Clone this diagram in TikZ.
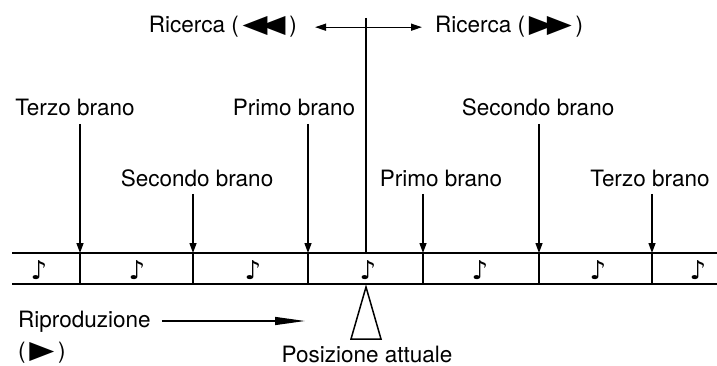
\documentclass[tikz,border=0pt]{standalone}
\usepackage{fontspec}
\setmainfont{TeX Gyre Heros}
\newfontfamily\symfont{DejaVu Sans}
\usetikzlibrary{arrows.meta,positioning}

\newcommand{\tasto}[1]{{\symfont\fontsize{25}{26}\selectfont\scalebox{1.3}[1]{#1}}}

\tikzset{
  testo/.style={font=\fontsize{22.5}{26}\selectfont, inner sep=0pt},
  brano/.style={testo, anchor=base, outer sep=8pt, text depth=0pt},
  pointer/.style={-{Triangle[length=10pt,width=7pt]}, line width=1.3pt},
  band/.style={line width=1.8pt},
  nota/.style={font=\symfont\fontsize{26}{28}\selectfont, inner sep=0pt}
}

\begin{document}
\begin{tikzpicture}[x=1pt,y=-1pt]
	\useasboundingbox (0,0) rectangle (717,366);

	%band of the disc
	\draw [band] (12,253) -- (717,253);
	\draw [band] (12,284) -- (717,284);
	\foreach \x/\nm in {80/a,193/b,308/c,423/d,539/e,652/f} {
		\coordinate (d\nm) at (\x,253);
		\draw [band] (d\nm) -- (\x,284);
	}
	\foreach \x in {39,137,253,368,480,598,698}
		\node [nota] at (\x,270) {♪};

	%track labels
	\foreach \nm/\x/\y/\txt in {a/75/116/Terzo brano, b/197/186/Secondo brano,
		c/294/116/Primo brano, d/441/186/Primo brano,
		e/538/116/Secondo brano, f/650/186/Terzo brano} {
		\node [brano] (l\nm) at (\x,\y) {\txt};
		\draw [pointer] (l\nm.south -| d\nm) -- (d\nm);
	}

	%search
	\coordinate (ctop) at (366,18);
	\coordinate (cbot) at (366,253);
	\draw [line width=1.3pt] (ctop) -- (cbot);
	\node [testo, anchor=base east] (rl) at (297,33) {Ricerca (\,\tasto{◀}\kern-7pt\tasto{◀}\,)};
	\node [testo, anchor=base west] (rr) at (435,33) {Ricerca (\,\tasto{▶}\kern-7pt\tasto{▶}\,)};
	\draw [{Triangle[length=11pt,width=7pt]}-{Triangle[length=11pt,width=7pt]}, line width=1.3pt]
		([xshift=18pt]rl.east) -- ([xshift=-13pt]rr.west);

	%current position
	\coordinate (apex) at (366,287);
	\draw [line width=1.5pt, line join=miter] (apex) -- (351,339) -- (381,339) -- cycle;
	\node [testo, anchor=base] (pos) at (367,362) {Posizione attuale};

	%play
	\node [testo, anchor=base west] (rip) at (18,327) {Riproduzione};
	\node [testo, anchor=base west] (play) at (18,358) {(\,\tasto{▶}\,)};
	\coordinate (ripend) at (305,321);
	\draw [-{Triangle[length=30pt,width=8pt]}, line width=1.3pt] ([xshift=11pt]rip.east |- ripend) -- (ripend);
\end{tikzpicture}
\end{document}
